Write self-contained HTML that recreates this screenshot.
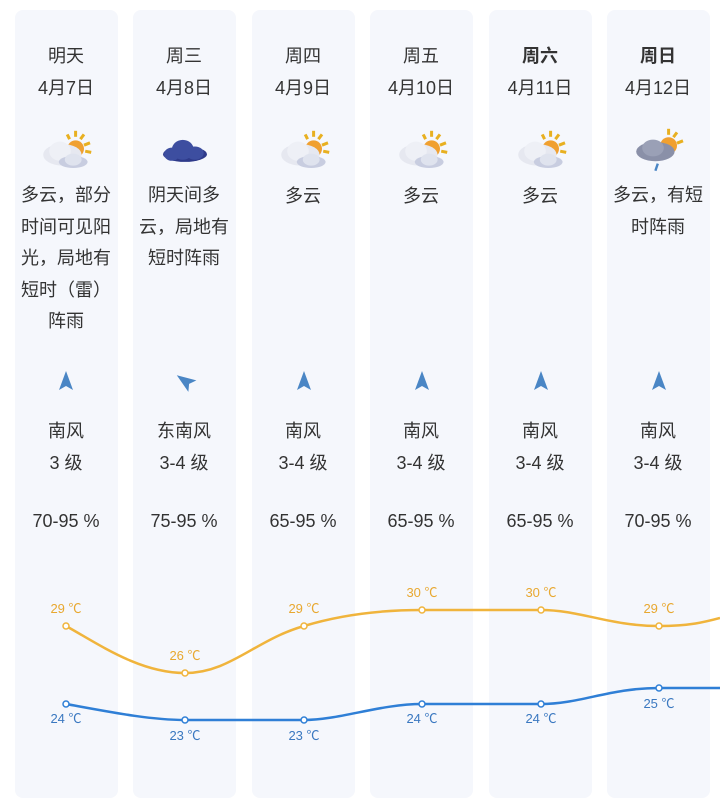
<!DOCTYPE html>
<html><head><meta charset="utf-8"><style>
*{margin:0;padding:0}
body{width:720px;height:811px;background:#fff;position:relative;overflow:hidden;font-family:"Liberation Sans","Noto Sans CJK SC",sans-serif;color:#333}
.card{position:absolute;top:10px;width:103px;height:788px;background:#f5f7fc;border-radius:8px}
.t{position:absolute;width:118px;text-align:center;font-size:18px;line-height:32px}
.b{font-weight:bold}
svg{position:absolute;left:0;top:0}
</style></head><body>
<div class="card" style="left:15px"></div>
<div class="card" style="left:133px"></div>
<div class="card" style="left:252px"></div>
<div class="card" style="left:370px"></div>
<div class="card" style="left:489px"></div>
<div class="card" style="left:607px"></div>

<div class="t" style="left:7px;top:40px">明天<br>4月7日</div>
<div class="t" style="left:125px;top:40px">周三<br>4月8日</div>
<div class="t" style="left:244px;top:40px">周四<br>4月9日</div>
<div class="t" style="left:362px;top:40px">周五<br>4月10日</div>
<div class="t b" style="left:481px;top:40px">周六<br><span style="font-weight:normal">4月11日</span></div>
<div class="t b" style="left:599px;top:40px">周日<br><span style="font-weight:normal">4月12日</span></div>

<div class="t" style="left:7px;top:180px;line-height:31.5px">多云，部分<br>时间可见阳<br>光，局地有<br>短时（雷）<br>阵雨</div>
<div class="t" style="left:125px;top:180px;line-height:31.5px">阴天间多<br>云，局地有<br>短时阵雨</div>
<div class="t" style="left:244px;top:180px">多云</div>
<div class="t" style="left:362px;top:180px">多云</div>
<div class="t" style="left:481px;top:180px">多云</div>
<div class="t" style="left:599px;top:180px;line-height:31.5px">多云，有短<br>时阵雨</div>

<div class="t" style="left:7px;top:415px">南风<br>3 级</div>
<div class="t" style="left:125px;top:415px">东南风<br>3-4 级</div>
<div class="t" style="left:244px;top:415px">南风<br>3-4 级</div>
<div class="t" style="left:362px;top:415px">南风<br>3-4 级</div>
<div class="t" style="left:481px;top:415px">南风<br>3-4 级</div>
<div class="t" style="left:599px;top:415px">南风<br>3-4 级</div>

<div class="t" style="left:7px;top:505px">70-95 %</div>
<div class="t" style="left:125px;top:505px">75-95 %</div>
<div class="t" style="left:244px;top:505px">65-95 %</div>
<div class="t" style="left:362px;top:505px">65-95 %</div>
<div class="t" style="left:481px;top:505px">65-95 %</div>
<div class="t" style="left:599px;top:505px">70-95 %</div>

<svg width="720" height="811" viewBox="0 0 720 811">
<defs>
<g id="sc">
 <g stroke="#e8b020" stroke-width="2.5">
  <line x1="8" y1="-16" x2="8" y2="-11"/><line x1="15" y1="-13" x2="12" y2="-9"/><line x1="20" y1="-6" x2="15" y2="-4"/><line x1="21" y1="2" x2="16" y2="1"/><line x1="1" y1="-13" x2="3" y2="-9"/>
 </g>
 <circle cx="8" cy="-1" r="7" fill="#f0a030"/>
 <ellipse cx="-3" cy="4" rx="16" ry="9" fill="#e6e8f0"/>
 <ellipse cx="-5" cy="1" rx="9" ry="8" fill="#eef0f6"/>
 <ellipse cx="6" cy="10" rx="12" ry="5" fill="#c8cde0"/>
 <ellipse cx="6" cy="8" rx="7" ry="5" fill="#dfe3ee"/>
</g>
<path id="ar" d="M0,-10 L7,9 L0,5 L-7,9 Z" fill="#4a86c5"/>
</defs>
<g transform="translate(66,150) scale(1.2)"><use href="#sc"/></g>
<g transform="translate(185,152) scale(1.1)"><ellipse cx="0" cy="2" rx="20" ry="7" fill="#2e3a8a"/><ellipse cx="-2" cy="-2" rx="10" ry="9" fill="#3d4ea0"/><ellipse cx="9" cy="1" rx="8" ry="6" fill="#3d4ea0"/><ellipse cx="-12" cy="2" rx="7" ry="6" fill="#3d4ea0"/></g>
<g transform="translate(304,150) scale(1.2)"><use href="#sc"/></g>
<g transform="translate(422,150) scale(1.2)"><use href="#sc"/></g>
<g transform="translate(541,150) scale(1.2)"><use href="#sc"/></g>
<g transform="translate(659,148) scale(1.2)">
 <g stroke="#e8b020" stroke-width="2.5"><line x1="8" y1="-16" x2="8" y2="-11"/><line x1="15" y1="-13" x2="12" y2="-9"/><line x1="20" y1="-6" x2="15" y2="-4"/></g>
 <circle cx="8" cy="-2" r="7" fill="#f0a030"/>
 <ellipse cx="-3" cy="3" rx="16" ry="8" fill="#8a90a8"/><ellipse cx="-5" cy="0" rx="9" ry="7" fill="#9aa0b6"/>
 <line x1="-1" y1="13" x2="-3" y2="19" stroke="#4a86c5" stroke-width="2"/>
</g>
<use href="#ar" x="66" y="381"/>
<g transform="translate(185,381) rotate(-55)"><use href="#ar"/></g>
<use href="#ar" x="304" y="381"/>
<use href="#ar" x="422" y="381"/>
<use href="#ar" x="541" y="381"/>
<use href="#ar" x="659" y="381"/>

<path d="M66,626 C100,645 140,673 185,673 C230,673 255,640 304,626 C340,615 380,610 422,610 L541,610 C580,610 610,626 659,626 C690,626 705,622 720,618" fill="none" stroke="#f0b43c" stroke-width="2.5"/>
<path d="M66,704 C110,712 150,720 185,720 L304,720 C340,720 380,704 422,704 L541,704 C580,704 610,688 659,688 L720,688" fill="none" stroke="#2f7fd6" stroke-width="2.5"/>
<g fill="#fff" stroke="#f0b43c" stroke-width="1.5">
<circle cx="66" cy="626" r="3"/><circle cx="185" cy="673" r="3"/><circle cx="304" cy="626" r="3"/><circle cx="422" cy="610" r="3"/><circle cx="541" cy="610" r="3"/><circle cx="659" cy="626" r="3"/></g>
<g fill="#fff" stroke="#2f7fd6" stroke-width="1.5">
<circle cx="66" cy="704" r="3"/><circle cx="185" cy="720" r="3"/><circle cx="304" cy="720" r="3"/><circle cx="422" cy="704" r="3"/><circle cx="541" cy="704" r="3"/><circle cx="659" cy="688" r="3"/></g>
<g font-family="Liberation Sans, Noto Sans CJK SC, sans-serif" font-size="13" text-anchor="middle" fill="#e8a830">
<text x="66" y="613">29 ℃</text><text x="185" y="660">26 ℃</text><text x="304" y="613">29 ℃</text><text x="422" y="597">30 ℃</text><text x="541" y="597">30 ℃</text><text x="659" y="613">29 ℃</text></g>
<g font-family="Liberation Sans, Noto Sans CJK SC, sans-serif" font-size="13" text-anchor="middle" fill="#3a78c0">
<text x="66" y="723">24 ℃</text><text x="185" y="740">23 ℃</text><text x="304" y="740">23 ℃</text><text x="422" y="723">24 ℃</text><text x="541" y="723">24 ℃</text><text x="659" y="708">25 ℃</text></g>
</svg>
</body></html>
